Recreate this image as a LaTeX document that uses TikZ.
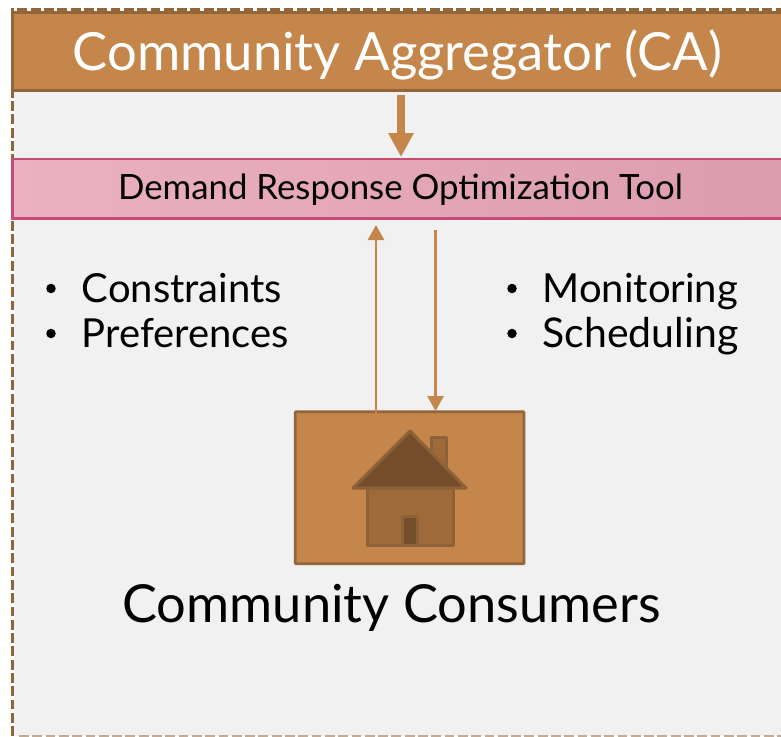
\documentclass[tikz,border=0pt]{standalone}
\usepackage{fontspec}
\setmainfont{Lato}
\usetikzlibrary{arrows.meta}
\definecolor{panel}{HTML}{F1F1F1}
\definecolor{tan}{HTML}{C4864A}
\definecolor{tandark}{HTML}{93653A}
\definecolor{wall}{HTML}{9E6A3A}
\definecolor{wallline}{HTML}{8E6238}
\definecolor{roof}{HTML}{744E2B}
\definecolor{rose}{HTML}{C84B74}
\definecolor{pinkL}{HTML}{EBB1C1}
\definecolor{pinkR}{HTML}{DB9CAE}
\tikzset{
  banner/.style={draw=tandark,line width=3pt,fill=tan,inner sep=0pt,outer sep=0pt,text=white},
  toolbar/.style={draw=rose,line width=2.8pt,left color=pinkL,right color=pinkR,inner sep=0pt,outer sep=0pt,text=black},
  lbl/.style={inner sep=0pt,anchor=base west,text=black,font=\fontsize{40}{48}\selectfont},
  bul/.style={inner sep=0pt,anchor=center,text=black,circle,fill=black,minimum size=9.5pt,outer sep=0pt},
  housebox/.style={draw=tandark,line width=2.8pt,fill=tan,inner sep=0pt,outer sep=0pt,rounded corners=0.8pt},
  houseline/.style={draw=wallline,line width=3pt,line join=round},
  thinarrow/.style={draw=tan,line width=2.6pt,-{Triangle[length=15pt,width=16pt]}},
  fatarrow/.style={draw=tan,line width=8pt,-{Triangle[length=24pt,width=24pt]}}
}
\begin{document}
\begin{tikzpicture}[x=1pt,y=-1pt]
\useasboundingbox (0,0) rectangle (781,736);
\fill[white] (0,0) rectangle (781,736);
\fill[panel] (14,11) rectangle (790,736);
\draw[tandark,line width=3.4pt,dash pattern=on 9.8pt off 3.5pt] (12.5,736) -- (12.5,9.5) -- (781,9.5);
\draw[tandark!55,line width=2pt,dash pattern=on 9.8pt off 3.5pt] (19,735.5) -- (781,735.5);
\node[banner,minimum width=790pt,minimum height=78pt,anchor=north west] (ca) at (12.5,12.5) {};
\node[inner sep=0pt,text=white,font=\fontsize{52.6}{60}\selectfont,anchor=base] (catext) at (397.5,70) {Community Aggregator (CA)};
\node[toolbar,minimum width=790pt,minimum height=59.3pt,anchor=north west] (tool) at (12.5,159) {};
\node[inner sep=0pt,text=black,font=\fontsize{34.8}{42}\selectfont,anchor=base] (tooltext) at (400.5,199) {Demand Response Optimization Tool};
\node[housebox,minimum width=228.7pt,minimum height=152pt,anchor=north west] (home) at (295.3,411.7) {};
% house
\draw[houseline,fill=wall] (431,488) -- (431,437.5) -- (446,437.5) -- (446,488) -- cycle;
\draw[houseline,fill=wall] (367,488) rectangle (453,545);
\draw[houseline,fill=roof] (410,431) -- (466,488) -- (353,488) -- cycle;
\draw[houseline,fill=roof] (402.5,516.5) rectangle (417,545);
% arrows
\coordinate (fatstart) at (401,95);
\coordinate (fatend) at (401,157);
\draw[fatarrow] (fatstart) -- (fatend);
\coordinate (upstart) at (376,413);
\coordinate (upend) at (376,225);
\draw[thinarrow] (upstart) -- (upend);
\coordinate (downstart) at (435.5,230);
\coordinate (downend) at (435.5,411);
\draw[thinarrow] (downstart) -- (downend);
% labels
\node[bul] (b1) at (51,288.5) {};
\node[bul] (b2) at (51,333.5) {};
\node[lbl] (t1) at (81.5,302) {Constraints};
\node[lbl] (t2) at (81.5,347) {Preferences};
\node[bul] (b3) at (512,288.5) {};
\node[bul] (b4) at (512,333.5) {};
\node[lbl] (t3) at (542.5,302) {Monitoring};
\node[lbl,font=\fontsize{41}{48}\selectfont] (t4) at (542.5,347) {Scheduling};
\node[inner sep=0pt,font=\fontsize{52.4}{60}\selectfont,anchor=base,text=black] (cc) at (391.5,622) {Community Consumers};
\end{tikzpicture}
\end{document}
